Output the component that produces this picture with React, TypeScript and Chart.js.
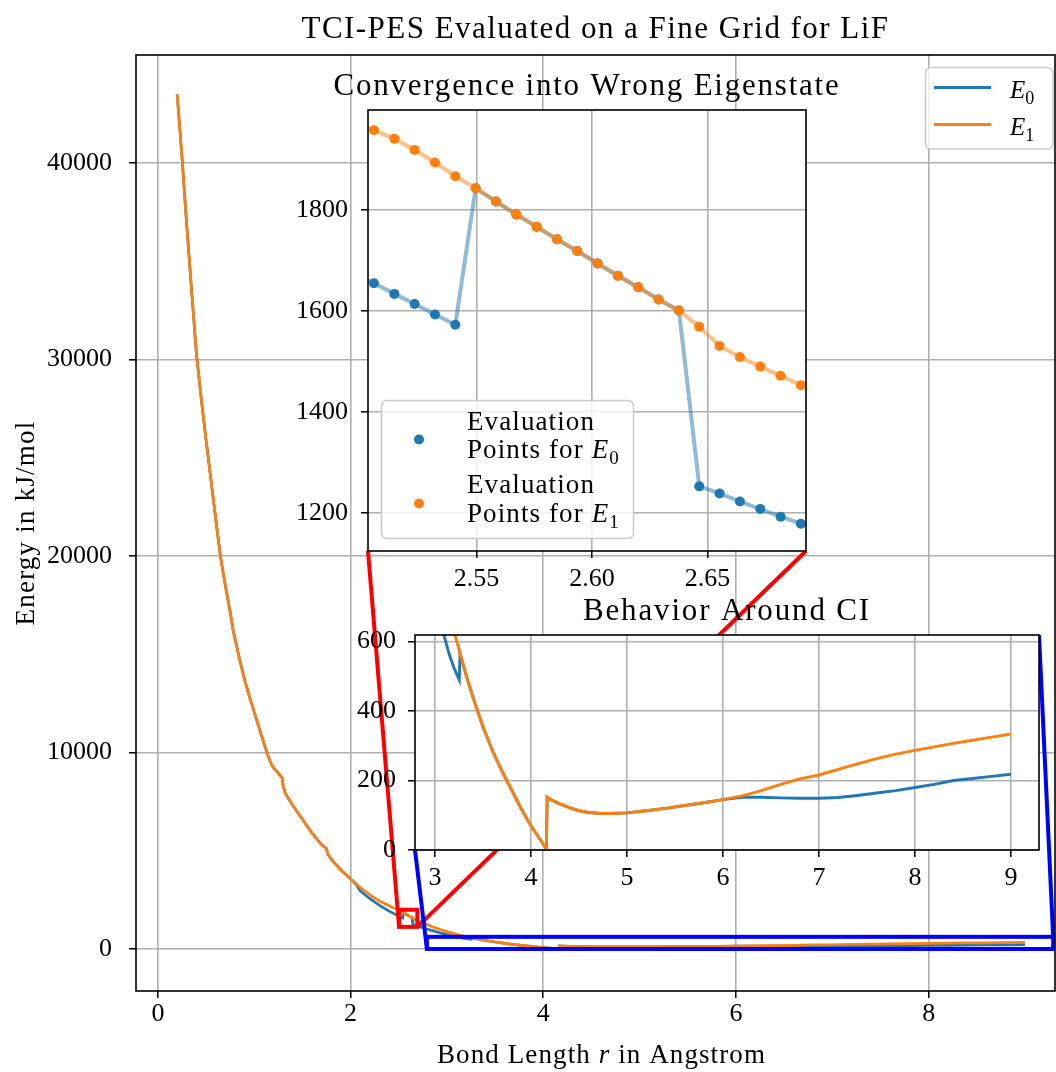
import React, { useEffect, useRef } from 'react';
import { Chart, registerables } from 'chart.js';

Chart.register(...registerables);

// ---------------- data ----------------
const bondLength = [
  0.2, 0.25, 0.3, 0.35, 0.4, 0.45, 0.5, 0.55, 0.6, 0.65,
  0.7, 0.75, 0.78, 0.8, 0.85, 0.9, 0.95, 1.0, 1.05, 1.1,
  1.15, 1.18, 1.2, 1.25, 1.29, 1.3, 1.32, 1.35, 1.4, 1.5,
  1.6, 1.7, 1.75, 1.76, 1.8, 1.85, 1.9, 2.0, 2.05, 2.1,
  2.2, 2.3, 2.4, 2.45, 2.4968,
  2.5056, 2.5144, 2.5232, 2.532, 2.5408, 2.5496, 2.5584, 2.5672, 2.576, 2.5848,
  2.5936, 2.6024, 2.6112, 2.62, 2.6288, 2.6376, 2.6464, 2.6552, 2.664, 2.6728,
  2.6816, 2.6904, 2.6992,
  2.75, 2.8, 2.85, 2.9, 2.95, 3.0, 3.05, 3.1, 3.15, 3.2,
  3.2528, 3.2616, 3.3, 3.35, 3.4, 3.45, 3.5, 3.6, 3.7, 3.8,
  3.9, 4.0, 4.1, 4.16, 4.1688, 4.2, 4.3, 4.4, 4.5, 4.6,
  4.7, 4.8, 4.9, 5.0, 5.2, 5.4, 5.6, 5.8, 6.0, 6.2,
  6.4, 6.6, 6.8, 7.0, 7.2, 7.4, 7.6, 7.8, 8.0, 8.2,
  8.4, 8.6, 8.8, 9.0,
];

const energyE1 = [
  43500, 40300, 36800, 33500, 30300, 28000, 25900, 23900, 21900, 19950,
  18500, 17150, 16250, 15800, 14700, 13700, 12850, 12060, 11270, 10470,
  9740, 9380, 9230, 8950, 8700, 8300, 7950, 7700, 7300, 6600,
  5900, 5300, 5120, 4880, 4560, 4290, 4020, 3560, 3340, 3130,
  2760, 2440, 2200, 2080, 1978,
  1958, 1941, 1919, 1894, 1867, 1843, 1817, 1791, 1767, 1742,
  1719, 1694, 1670, 1647, 1623, 1601, 1569, 1531, 1509, 1490,
  1472, 1453, 1436,
  1327, 1228, 1135, 1046, 963, 886, 813, 746, 685, 628,
  575, 566, 527, 480, 437, 395, 355, 285, 226, 172,
  118, 70, 28, 3, 152, 146, 133, 122, 113, 108,
  106, 105, 106, 107, 113, 120, 128, 136, 145, 156,
  171, 189, 205, 216, 232, 248, 263, 276, 287, 297,
  307, 316, 325, 334,
];

const energyE0 = [
  43500, 40300, 36800, 33500, 30300, 28000, 25900, 23900, 21900, 19950,
  18500, 17150, 16250, 15800, 14700, 13700, 12850, 12060, 11270, 10470,
  9740, 9380, 9230, 8950, 8700, 8300, 7950, 7700, 7300, 6600,
  5900, 5300, 5120, 4880, 4560, 4290, 4020, 3560, 3340, 2960,
  2560, 2220, 1930, 1800, 1675,
  1655, 1634, 1614, 1593, 1573, 1843, 1817, 1791, 1767, 1742,
  1719, 1694, 1670, 1647, 1623, 1601, 1253, 1239, 1223, 1208,
  1193, 1179, 1166,
  1083, 1007, 934, 862, 794, 731, 673, 612, 562, 523,
  490, 566, 527, 480, 437, 395, 355, 285, 226, 172,
  118, 70, 28, 3, 152, 146, 133, 122, 113, 108,
  106, 105, 106, 107, 113, 120, 128, 136, 145, 152,
  152, 150, 149, 149, 151, 157, 164, 171, 180, 189,
  200, 206, 212, 218,
];

const mainXTicks = [0, 2, 4, 6, 8];
const mainYTicks = [0, 10000, 20000, 30000, 40000];
const inset1XTicks = [2.55, 2.6, 2.65];
const inset1YTicks = [1200, 1400, 1600, 1800];
const inset2XTicks = [3, 4, 5, 6, 7, 8, 9];
const inset2YTicks = [0, 200, 400, 600];

// axis limits
const mainRange = { xMin: -0.2273, xMax: 9.311, yMin: -2138, yMax: 45505 };
const inset1Range = { xMin: 2.503, xMax: 2.6926, yMin: 1125, yMax: 1998 };
const inset2Range = { xMin: 2.792, xMax: 9.292, yMin: 0, yMax: 619 };

// ---------------- layout / style ----------------
const W = 1056;
const H = 1072;
const FONT = "'Liberation Serif', 'DejaVu Serif', serif";
const C0 = '#1f77b4';
const C1 = '#ff7f0e';
const GRID = '#b0b0b0';

type Area = { left: number; top: number; right: number; bottom: number };
const MAIN_AREA: Area = { left: 136, top: 55, right: 1055, bottom: 991 };
const INSET1_AREA: Area = { left: 368, top: 110, right: 806, bottom: 551 };
const INSET2_AREA: Area = { left: 415, top: 635, right: 1039, bottom: 850 };

type Part = { t: string; italic?: boolean; sub?: boolean };

function setLS(ctx: CanvasRenderingContext2D, px: number) {
  const c = ctx as any;
  if ('letterSpacing' in c) c.letterSpacing = `${px}px`;
}

// draws mixed text; if target width given, stretches with letter spacing
function drawRich(
  ctx: CanvasRenderingContext2D, x: number, y: number, parts: Part[], size: number,
  align: 'left' | 'center', target?: number, spacing?: number,
) {
  const fontOf = (p: Part) => `${p.italic ? 'italic ' : ''}${p.sub ? Math.round(size * 0.72) : size}px ${FONT}`;
  setLS(ctx, 0);
  const widths = parts.map((p) => {
    ctx.font = fontOf(p);
    return ctx.measureText(p.t).width;
  });
  const chars = parts.reduce((a, p) => a + p.t.length, 0);
  const natural = widths.reduce((a, b) => a + b, 0);
  const supported = 'letterSpacing' in (ctx as any);
  let ls = spacing ?? 0;
  if (target !== undefined) ls = (target - natural) / chars;
  if (!supported) ls = 0;
  const total = natural + ls * chars;
  let cx = align === 'center' ? x - total / 2 : x;
  ctx.textAlign = 'left';
  ctx.textBaseline = 'alphabetic';
  setLS(ctx, ls);
  parts.forEach((p, i) => {
    ctx.font = fontOf(p);
    ctx.fillText(p.t, cx, y + (p.sub ? size * 0.22 : 0));
    cx += widths[i] + ls * p.t.length;
  });
  setLS(ctx, 0);
  return ls;
}

function roundBox(ctx: CanvasRenderingContext2D, x: number, y: number, w: number, h: number, r: number) {
  ctx.beginPath();
  ctx.moveTo(x + r, y);
  ctx.lineTo(x + w - r, y);
  ctx.quadraticCurveTo(x + w, y, x + w, y + r);
  ctx.lineTo(x + w, y + h - r);
  ctx.quadraticCurveTo(x + w, y + h, x + w - r, y + h);
  ctx.lineTo(x + r, y + h);
  ctx.quadraticCurveTo(x, y + h, x, y + h - r);
  ctx.lineTo(x, y + r);
  ctx.quadraticCurveTo(x, y, x + r, y);
  ctx.closePath();
}

type ScaleOpts = {
  range: { xMin: number; xMax: number; yMin: number; yMax: number };
  xTicks: number[];
  yTicks: number[];
  xFmt: (v: number) => string;
  yFmt: (v: number) => string;
  yAxisW: number;
  xAxisH: number;
  xPad: number;
  yPad: number;
  tickSize: number;
};

function buildScales(o: ScaleOpts) {
  const grid = { color: GRID, lineWidth: 1.6, tickColor: '#000', tickLength: 7, tickWidth: 1.5, drawTicks: true };
  const font = { family: FONT, size: o.tickSize, lineHeight: 1 };
  return {
    x: {
      type: 'linear',
      min: o.range.xMin,
      max: o.range.xMax,
      afterBuildTicks: (s: any) => {
        s.ticks = o.xTicks.map((v) => ({ value: v }));
      },
      afterFit: (s: any) => {
        s.height = o.xAxisH;
      },
      ticks: { font, color: '#000', padding: o.xPad, maxRotation: 0, autoSkip: false, callback: (v: any) => o.xFmt(Number(v)) },
      grid,
      border: { display: false },
    },
    y: {
      type: 'linear',
      min: o.range.yMin,
      max: o.range.yMax,
      afterBuildTicks: (s: any) => {
        s.ticks = o.yTicks.map((v) => ({ value: v }));
      },
      afterFit: (s: any) => {
        s.width = o.yAxisW;
      },
      ticks: { font, color: '#000', padding: o.yPad, autoSkip: false, callback: (v: any) => o.yFmt(Number(v)) },
      grid,
      border: { display: false },
    },
  };
}

function padFor(area: Area, yAxisW: number, xAxisH: number) {
  return { left: area.left - yAxisW, top: area.top, right: W - area.right, bottom: H - area.bottom - xAxisH };
}

function points(ys: number[]) {
  return bondLength.map((r, i) => ({ x: r, y: ys[i] }));
}

function strokeBox(ctx: CanvasRenderingContext2D, a: { left: number; top: number; right: number; bottom: number }) {
  ctx.save();
  ctx.strokeStyle = '#000';
  ctx.lineWidth = 1.6;
  ctx.strokeRect(a.left, a.top, a.right - a.left, a.bottom - a.top);
  ctx.restore();
}

function makeMain(canvas: HTMLCanvasElement) {
  const yAxisW = 136;
  const xAxisH = 81;
  const deco = {
    id: 'mainDeco',
    afterDatasetsDraw(chart: any) {
      const { ctx } = chart;
      const xs = chart.scales.x;
      const ys = chart.scales.y;
      const px = (v: number) => xs.getPixelForValue(v);
      const py = (v: number) => ys.getPixelForValue(v);
      ctx.save();
      ctx.lineWidth = 4;
      ctx.lineJoin = 'miter';
      // red zoom box + connectors
      const r1 = { l: px(inset1Range.xMin), r: px(inset1Range.xMax), t: py(inset1Range.yMax), b: py(inset1Range.yMin) };
      ctx.strokeStyle = '#ff0000';
      ctx.strokeRect(r1.l, r1.t, r1.r - r1.l, r1.b - r1.t);
      ctx.beginPath();
      ctx.moveTo(INSET1_AREA.left, INSET1_AREA.bottom);
      ctx.lineTo(r1.l, r1.b);
      ctx.moveTo(INSET1_AREA.right, INSET1_AREA.bottom);
      ctx.lineTo(r1.r, r1.b);
      ctx.stroke();
      // blue zoom box + connectors
      const r2 = { l: px(inset2Range.xMin), r: px(inset2Range.xMax), t: py(inset2Range.yMax), b: py(inset2Range.yMin) };
      ctx.strokeStyle = '#0000ff';
      ctx.strokeRect(r2.l, r2.t, r2.r - r2.l, r2.b - r2.t);
      ctx.beginPath();
      ctx.moveTo(INSET2_AREA.left, INSET2_AREA.bottom);
      ctx.lineTo(r2.l, r2.b);
      ctx.moveTo(INSET2_AREA.right, INSET2_AREA.top);
      ctx.lineTo(r2.r, r2.t);
      ctx.stroke();
      ctx.restore();
    },
    afterDraw(chart: any) {
      const { ctx, chartArea } = chart;
      strokeBox(ctx, chartArea);
      ctx.save();
      ctx.fillStyle = '#000';
      const cx = (chartArea.left + chartArea.right) / 2;
      // title
      drawRich(ctx, cx, 38, [{ t: 'TCI-PES Evaluated on a Fine Grid for LiF' }], 31, 'center', 588);
      // x label
      drawRich(ctx, cx + 6, 1063, [{ t: 'Bond Length ' }, { t: 'r', italic: true }, { t: ' in Angstrom' }], 27, 'center', 329);
      // y label
      ctx.save();
      ctx.translate(34, (chartArea.top + chartArea.bottom) / 2);
      ctx.rotate(-Math.PI / 2);
      drawRich(ctx, 0, 0, [{ t: 'Energy in kJ/mol' }], 27, 'center', 205);
      ctx.restore();
      // legend
      ctx.save();
      roundBox(ctx, 925.5, 67.5, 127.5, 81.5, 6);
      ctx.fillStyle = 'rgba(255,255,255,0.8)';
      ctx.fill();
      ctx.strokeStyle = '#cccccc';
      ctx.lineWidth = 1.5;
      ctx.stroke();
      ctx.lineWidth = 3;
      ctx.strokeStyle = C0;
      ctx.beginPath();
      ctx.moveTo(934, 87.5);
      ctx.lineTo(991, 87.5);
      ctx.stroke();
      ctx.strokeStyle = C1;
      ctx.beginPath();
      ctx.moveTo(934, 124.5);
      ctx.lineTo(991, 124.5);
      ctx.stroke();
      ctx.fillStyle = '#000';
      drawRich(ctx, 1010, 98, [{ t: 'E', italic: true }, { t: '0', sub: true }], 25, 'left');
      drawRich(ctx, 1010, 135, [{ t: 'E', italic: true }, { t: '1', sub: true }], 25, 'left');
      ctx.restore();
      ctx.restore();
    },
  };
  return new Chart(canvas, {
    type: 'scatter',
    data: {
      datasets: [
        { label: 'E0', data: points(energyE0), showLine: true, borderColor: C0, backgroundColor: C0, borderWidth: 2.7, pointRadius: 0, order: 2, clip: 0 },
        { label: 'E1', data: points(energyE1), showLine: true, borderColor: C1, backgroundColor: C1, borderWidth: 2.7, pointRadius: 0, order: 1, clip: 0 },
      ],
    } as any,
    options: {
      animation: false,
      responsive: false,
      devicePixelRatio: 1,
      events: [],
      layout: { autoPadding: false, padding: padFor(MAIN_AREA, yAxisW, xAxisH) },
      plugins: { legend: { display: false }, tooltip: { enabled: false }, title: { display: false } },
      scales: buildScales({
        range: mainRange,
        xTicks: mainXTicks,
        yTicks: mainYTicks,
        xFmt: (v) => String(v),
        yFmt: (v) => String(v),
        yAxisW,
        xAxisH,
        xPad: 3,
        yPad: 17,
        tickSize: 26,
      }),
    } as any,
    plugins: [deco],
  });
}

function whiteBg(chart: any) {
  const { ctx, chartArea: a } = chart;
  ctx.save();
  ctx.fillStyle = '#ffffff';
  ctx.fillRect(a.left, a.top, a.right - a.left, a.bottom - a.top);
  ctx.restore();
}

function makeInset1(canvas: HTMLCanvasElement) {
  const yAxisW = 80;
  const xAxisH = 50;
  const deco = {
    id: 'inset1Deco',
    beforeDraw: whiteBg,
    afterDraw(chart: any) {
      const { ctx, chartArea } = chart;
      strokeBox(ctx, chartArea);
      ctx.save();
      ctx.fillStyle = '#000';
      drawRich(ctx, (chartArea.left + chartArea.right) / 2, 95, [{ t: 'Convergence into Wrong Eigenstate' }], 31, 'center', 507);
      // legend
      roundBox(ctx, 381.5, 400.5, 252, 138, 6);
      ctx.fillStyle = 'rgba(255,255,255,0.8)';
      ctx.fill();
      ctx.strokeStyle = '#cccccc';
      ctx.lineWidth = 1.5;
      ctx.stroke();
      ctx.fillStyle = C0;
      ctx.beginPath();
      ctx.arc(419, 439.5, 5, 0, Math.PI * 2);
      ctx.fill();
      ctx.fillStyle = C1;
      ctx.beginPath();
      ctx.arc(419, 503.5, 5, 0, Math.PI * 2);
      ctx.fill();
      ctx.fillStyle = '#000';
      const ls = drawRich(ctx, 467, 430, [{ t: 'Evaluation' }], 27, 'left', 128);
      drawRich(ctx, 467, 458, [{ t: 'Points for ' }, { t: 'E', italic: true }, { t: '0', sub: true }], 27, 'left', undefined, ls);
      drawRich(ctx, 467, 493, [{ t: 'Evaluation' }], 27, 'left', undefined, ls);
      drawRich(ctx, 467, 522, [{ t: 'Points for ' }, { t: 'E', italic: true }, { t: '1', sub: true }], 27, 'left', undefined, ls);
      ctx.restore();
    },
  };
  return new Chart(canvas, {
    type: 'scatter',
    data: {
      datasets: [
        {
          label: 'E0', data: points(energyE0), showLine: true, borderColor: 'rgba(31,119,180,0.5)', borderWidth: 4,
          pointRadius: 5, pointBackgroundColor: C0, pointBorderWidth: 0, pointBorderColor: C0, order: 2, clip: 0,
        },
        {
          label: 'E1', data: points(energyE1), showLine: true, borderColor: 'rgba(255,127,14,0.5)', borderWidth: 4,
          pointRadius: 5, pointBackgroundColor: C1, pointBorderWidth: 0, pointBorderColor: C1, order: 1, clip: 0,
        },
      ],
    } as any,
    options: {
      animation: false,
      responsive: false,
      devicePixelRatio: 1,
      events: [],
      layout: { autoPadding: false, padding: padFor(INSET1_AREA, yAxisW, xAxisH) },
      plugins: { legend: { display: false }, tooltip: { enabled: false }, title: { display: false } },
      scales: buildScales({
        range: inset1Range,
        xTicks: inset1XTicks,
        yTicks: inset1YTicks,
        xFmt: (v) => v.toFixed(2),
        yFmt: (v) => String(v),
        yAxisW,
        xAxisH,
        xPad: 8,
        yPad: 13,
        tickSize: 26,
      }),
    } as any,
    plugins: [deco],
  });
}

function makeInset2(canvas: HTMLCanvasElement) {
  const yAxisW = 70;
  const xAxisH = 50;
  const deco = {
    id: 'inset2Deco',
    beforeDraw: whiteBg,
    afterDraw(chart: any) {
      const { ctx, chartArea } = chart;
      strokeBox(ctx, chartArea);
      ctx.save();
      ctx.fillStyle = '#000';
      drawRich(ctx, (chartArea.left + chartArea.right) / 2, 620, [{ t: 'Behavior Around CI' }], 31, 'center', 288);
      ctx.restore();
    },
  };
  return new Chart(canvas, {
    type: 'scatter',
    data: {
      datasets: [
        { label: 'E0', data: points(energyE0), showLine: true, borderColor: C0, borderWidth: 2.9, pointRadius: 0, order: 2, clip: 0 },
        { label: 'E1', data: points(energyE1), showLine: true, borderColor: C1, borderWidth: 2.9, pointRadius: 0, order: 1, clip: 0 },
      ],
    } as any,
    options: {
      animation: false,
      responsive: false,
      devicePixelRatio: 1,
      events: [],
      layout: { autoPadding: false, padding: padFor(INSET2_AREA, yAxisW, xAxisH) },
      plugins: { legend: { display: false }, tooltip: { enabled: false }, title: { display: false } },
      scales: buildScales({
        range: inset2Range,
        xTicks: inset2XTicks,
        yTicks: inset2YTicks,
        xFmt: (v) => String(v),
        yFmt: (v) => String(v),
        yAxisW,
        xAxisH,
        xPad: 8,
        yPad: 12,
        tickSize: 26,
      }),
    } as any,
    plugins: [deco],
  });
}

export default function App() {
  const mainRef = useRef<HTMLCanvasElement>(null);
  const in1Ref = useRef<HTMLCanvasElement>(null);
  const in2Ref = useRef<HTMLCanvasElement>(null);

  useEffect(() => {
    const charts: Chart[] = [];
    if (mainRef.current) charts.push(makeMain(mainRef.current));
    if (in2Ref.current) charts.push(makeInset2(in2Ref.current));
    if (in1Ref.current) charts.push(makeInset1(in1Ref.current));
    return () => charts.forEach((c) => c.destroy());
  }, []);

  const cs: React.CSSProperties = { position: 'absolute', left: 0, top: 0, width: W, height: H, display: 'block' };
  return (
    <div style={{ position: 'absolute', left: 0, top: 0, width: W, height: H, background: '#fff' }}>
      <canvas ref={mainRef} width={W} height={H} style={cs} />
      <canvas ref={in2Ref} width={W} height={H} style={cs} />
      <canvas ref={in1Ref} width={W} height={H} style={cs} />
    </div>
  );
}
